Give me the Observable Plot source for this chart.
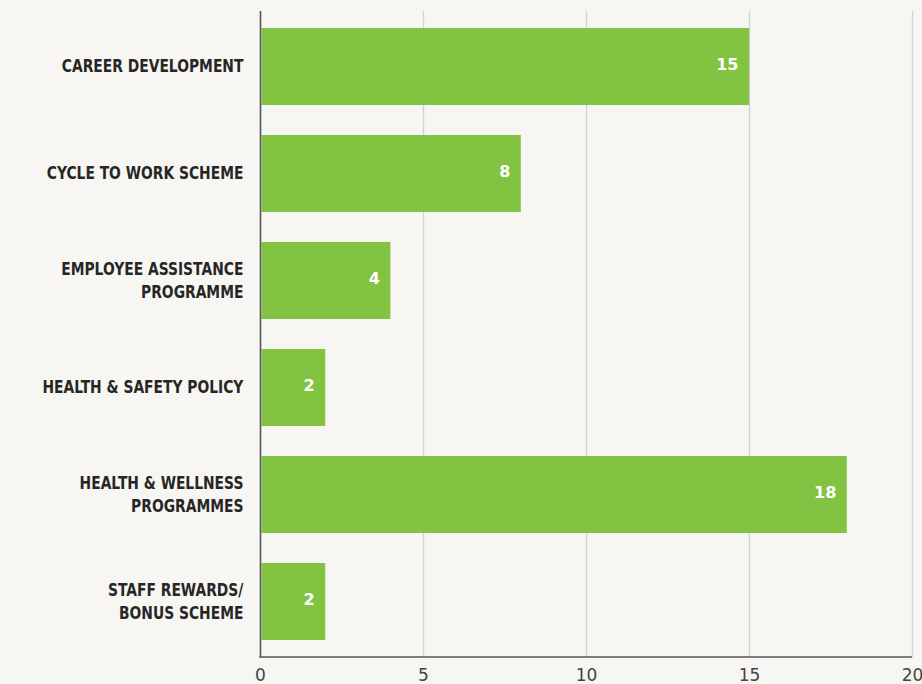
<!DOCTYPE html>
<html>
<head>
<meta charset="utf-8">
<script src="https://cdn.jsdelivr.net/npm/d3@7"></script>
<script src="https://cdn.jsdelivr.net/npm/@observablehq/plot@0.6"></script>
<style>
  html, body { margin: 0; padding: 0; background: #f7f6f2; }
  #chart { width: 922px; height: 684px; overflow: hidden; }
  svg { display: block; }
</style>
</head>
<body>
<div id="chart"></div>
<script>
const categories = [
  "CAREER DEVELOPMENT",
  "CYCLE TO WORK SCHEME",
  "EMPLOYEE ASSISTANCE\nPROGRAMME",
  "HEALTH & SAFETY POLICY",
  "HEALTH & WELLNESS\nPROGRAMMES",
  "STAFF REWARDS/\nBONUS SCHEME"
];
const values = [15, 8, 4, 2, 18, 2];
const xTicks = [0, 5, 10, 15, 20];

const data = categories.map((c, i) => ({category: c, value: values[i]}));
const labelFont = "'DejaVu Sans', sans-serif";

// bottom axis line drawn from the x scale
function bottomLine(index, scales, values, dimensions) {
  const {height, marginBottom} = dimensions;
  const x0 = scales.x(xTicks[0]);
  const x1 = scales.x(xTicks[xTicks.length - 1]);
  const yb = height - marginBottom;
  const line = document.createElementNS("http://www.w3.org/2000/svg", "line");
  line.setAttribute("x1", x0 - 0.8);
  line.setAttribute("x2", x1);
  line.setAttribute("y1", yb);
  line.setAttribute("y2", yb);
  line.setAttribute("stroke", "#555");
  line.setAttribute("stroke-width", 1.6);
  return line;
}

const chart = Plot.plot({
  width: 922,
  height: 684,
  marginTop: 11,
  marginBottom: 27,
  marginLeft: 260,
  marginRight: 10,
  style: {background: "transparent", fontFamily: labelFont},
  x: {domain: [0, 20], ticks: xTicks, axis: null, label: null},
  y: {domain: categories, paddingInner: 0.28, paddingOuter: 0.14, axis: null},
  marks: [
    Plot.ruleX(xTicks.filter(d => d > 0), {stroke: "#d2d2d2", strokeWidth: 1.3}),
    Plot.barX(data, {x: "value", y: "category", fill: "#82c341", insetLeft: 1.5}),
    Plot.text(data, {
      x: "value", y: "category", text: d => String(d.value),
      textAnchor: "end", dx: -11, dy: -2, fill: "white", fontWeight: "bold", fontSize: 16
    }),
    Plot.text(data, {
      x: 0, y: "category", text: "category", textAnchor: "end", dx: -17, dy: -2,
      lineHeight: 1.3, fill: "#262626", fontWeight: "bold", fontSize: 18
    }),
    Plot.ruleX([0], {stroke: "#555", strokeWidth: 1.6}),
    bottomLine,
    Plot.axisX({ticks: xTicks, tickSize: 0, tickPadding: 11, fontSize: 17, fill: "#444", anchor: "bottom", label: null})
  ]
});
document.getElementById("chart").appendChild(chart);

// condense the category labels horizontally, anchored at their right edge
const textGroups = chart.querySelectorAll('g[aria-label="text"]');
if (textGroups.length > 1) {
  const g = textGroups[1];
  const ax = 260 - 17;
  const existing = g.getAttribute("transform") || "";
  g.setAttribute("transform", `translate(${ax},0) scale(0.77,1) translate(${-ax},0) ${existing}`);
}
</script>
</body>
</html>
